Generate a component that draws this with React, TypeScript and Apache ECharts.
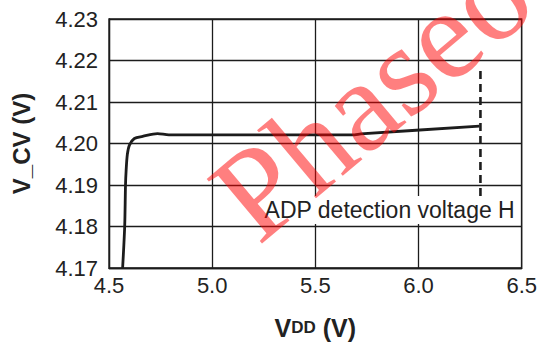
import React, { useEffect, useRef } from "react";
import * as echarts from "echarts";

const curveX = [4.566, 4.576, 4.58, 4.583, 4.589, 4.599, 4.623, 4.663, 4.735, 4.79, 5.0, 5.5, 5.69, 5.72, 6.295];
const curveY = [4.17, 4.18, 4.19, 4.1935, 4.1974, 4.1996, 4.2012, 4.2017, 4.2024, 4.2021, 4.2021, 4.2021, 4.2021, 4.2023, 4.2042];
const dashX = [6.3, 6.3];
const dashY = [4.2175, 4.1871];
const xTicks = [4.5, 5.0, 5.5, 6.0, 6.5];
const yTicks = [4.17, 4.18, 4.19, 4.2, 4.21, 4.22, 4.23];
const noteText = "ADP detection voltage H";
const notePos = [5.86, 4.184];
const watermark = "Phaseout";

const FONT = "'Liberation Sans', Arial, Helvetica, sans-serif";
const INK = "#1c1c1c";

export default function App() {
  const ref = useRef<HTMLDivElement>(null);
  useEffect(() => {
    if (!ref.current) return;
    const chart = echarts.init(ref.current, null, { renderer: "svg" });
    const curve = curveX.map((x, i) => [x, curveY[i]]);
    const dash = dashX.map((x, i) => [x, dashY[i]]);
    chart.setOption({
      animation: false,
      backgroundColor: "#ffffff",
      grid: {
        left: 109,
        right: 16,
        top: 19,
        bottom: 73,
        show: true,
        borderColor: INK,
        borderWidth: 1.3,
        backgroundColor: "transparent",
      },
      xAxis: {
        type: "value",
        min: xTicks[0],
        max: xTicks[xTicks.length - 1],
        interval: 0.5,
        axisLine: { show: true, lineStyle: { color: INK, width: 1.3 } },
        axisTick: { show: false },
        splitLine: { show: true, lineStyle: { color: INK, width: 1.3 } },
        axisLabel: {
          color: "#222",
          fontSize: 22,
          fontFamily: FONT,
          margin: 6,
          formatter: (v: number) => v.toFixed(1),
        },
        name: "{v|V}{s|DD}{v| (V)}",
        nameLocation: "middle",
        nameGap: 47,
        nameTextStyle: {
          rich: {
            v: { fontSize: 25, fontWeight: "bold", fontFamily: FONT, color: "#222" },
            s: { fontSize: 17, fontWeight: "bold", fontFamily: FONT, color: "#222" },
          },
        },
      },
      yAxis: {
        type: "value",
        min: yTicks[0],
        max: yTicks[yTicks.length - 1],
        interval: 0.01,
        axisLine: { show: true, lineStyle: { color: INK, width: 1.3 } },
        axisTick: { show: false },
        splitLine: { show: true, lineStyle: { color: INK, width: 1.3 } },
        axisLabel: {
          color: "#222",
          fontSize: 22,
          fontFamily: FONT,
          margin: 11,
          formatter: (v: number) => v.toFixed(2),
        },
        name: "V_CV (V)",
        nameLocation: "middle",
        nameGap: 76,
        nameRotate: 90,
        nameTextStyle: { fontSize: 24, fontWeight: "bold", fontFamily: FONT, color: "#222" },
      },
      series: [
        {
          type: "line",
          data: curve,
          symbol: "none",
          smooth: 0.3,
          lineStyle: { color: INK, width: 2.8 },
          z: 3,
        },
        {
          type: "line",
          data: dash,
          symbol: "none",
          lineStyle: { color: INK, width: 2.6, type: [8, 5] },
          z: 3,
          markPoint: {
            symbol: "rect",
            symbolSize: 0,
            data: [{ coord: notePos, value: noteText }],
            label: {
              show: true,
              position: "inside",
              formatter: noteText,
              fontSize: 23,
              fontFamily: FONT,
              color: "#222",
              backgroundColor: "#ffffff",
              padding: [3, 4, 2, 4],
            },
          },
        },
      ],
      graphic: [
        {
          type: "text",
          x: 410,
          y: 62,
          rotation: (40 * Math.PI) / 180,
          z: 100,
          silent: true,
          style: {
            text: watermark,
            fontSize: 130,
            fontFamily: "'Liberation Serif', 'DejaVu Serif', serif",
            fill: "rgba(255,0,0,0.5)",
            textAlign: "center",
            textVerticalAlign: "middle",
          },
        },
      ],
    });
    return () => chart.dispose();
  }, []);
  return <div ref={ref} style={{ width: 540, height: 345, position: "absolute", left: 0, top: 0 }} />;
}
